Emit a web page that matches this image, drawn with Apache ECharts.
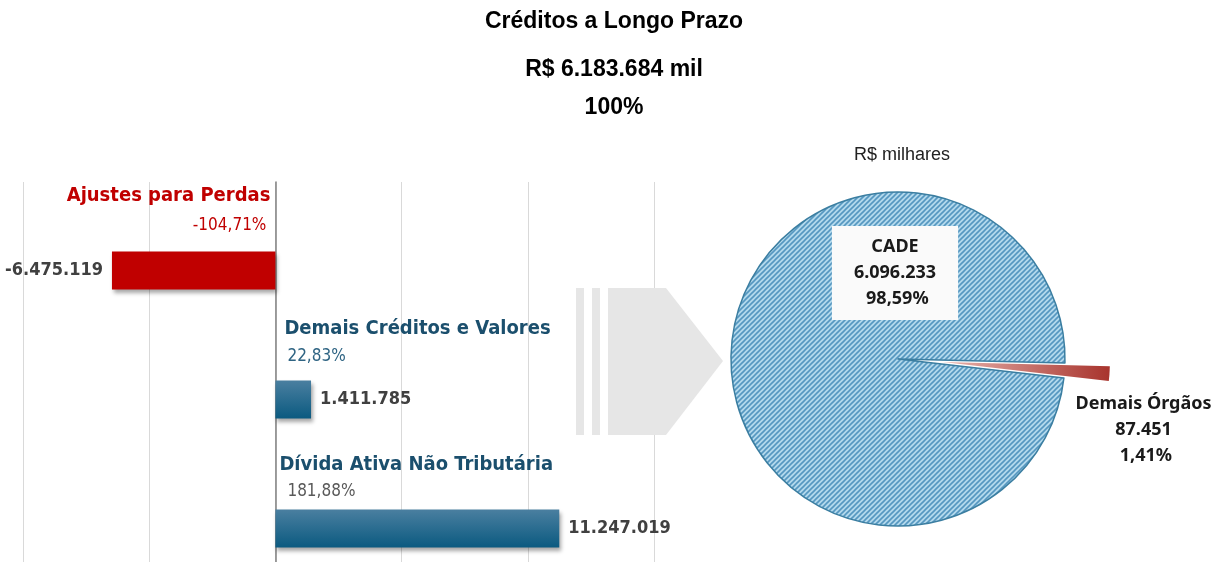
<!DOCTYPE html>
<html>
<head>
<meta charset="utf-8">
<script src="https://cdn.jsdelivr.net/npm/echarts@6/dist/echarts.min.js"></script>
<style>
  html, body { margin: 0; padding: 0; background: #fff; }
  #chart { width: 1212px; height: 562px; }
</style>
</head>
<body>
<div id="chart"></div>
<script>
// titulos
const titleLines = ['Créditos a Longo Prazo', 'R$ 6.183.684 mil', '100%'];
const pieTitle = 'R$ milhares';

// barras (R$ mil)
const barCategories = ['Ajustes para Perdas', 'Demais Créditos e Valores', 'Dívida Ativa Não Tributária'];
const barValues = [-6475119, 1411785, 11247019];
const barShares = ['-104,71%', '22,83%', '181,88%'];

// pizza
const pieNames = ['CADE', 'Demais Órgãos'];
const pieValues = [6096233, 87451];
const pieShares = ['98,59%', '1,41%'];

const narrow = "'Liberation Sans Narrow', 'DejaVu Sans Condensed', sans-serif";

function fmt(v) {
  const s = Math.abs(v).toString().replace(/\B(?=(\d{3})+(?!\d))/g, '.');
  return (v < 0 ? '-' : '') + s;
}

// hachura diagonal da pizza
function hatch() {
  const n = 5;
  const c = document.createElement('canvas');
  c.width = n; c.height = n;
  const g = c.getContext('2d');
  g.fillStyle = '#b3d9ec';
  g.fillRect(0, 0, n, n);
  g.strokeStyle = '#5597c0';
  g.lineWidth = 1.6;
  g.beginPath();
  g.moveTo(0, n); g.lineTo(n, 0);
  g.moveTo(-1, 1); g.lineTo(1, -1);
  g.moveTo(n - 1, n + 1); g.lineTo(n + 1, n - 1);
  g.stroke();
  return c;
}

const chart = echarts.init(document.getElementById('chart'));

const blueBar = new echarts.graphic.LinearGradient(0, 0, 0, 1, [
  { offset: 0, color: '#4a7fa0' },
  { offset: 1, color: '#0b5a80' }
]);

const redSlice = new echarts.graphic.LinearGradient(0, 0, 1, 0, [
  { offset: 0, color: '#e7b3ad' },
  { offset: 1, color: '#a8342d' }
]);

const nameColors = ['#c00000', '#1b4f6d', '#1b4f6d'];
const shareColors = ['#c00000', '#2f6483', '#595959'];
const nameDy = [-75, -71, -64];
const shareDy = [-45, -43, -37];

const option = {
  animation: false,
  backgroundColor: '#fff',
  title: titleLines.map((t, i) => ({
    text: t,
    left: 614,
    top: [10, 58, 96][i],
    textAlign: 'center',
    padding: 0,
    textStyle: { fontFamily: 'Liberation Sans', fontWeight: 'bold', fontSize: 23, color: '#000' }
  })).concat([{
    text: pieTitle,
    left: 902,
    top: 146,
    textAlign: 'center',
    padding: 0,
    textStyle: { fontFamily: 'Liberation Sans', fontWeight: 'normal', fontSize: 18, color: '#222' }
  }]),
  grid: [
    { left: 23, right: 558, top: 206, height: 387, outerBoundsMode: 'none' },
    { left: 23, right: 558, top: 182, bottom: 0, outerBoundsMode: 'none' }
  ],
  xAxis: [
    { gridIndex: 0, type: 'value', min: -10000000, max: 15000000, interval: 5000000,
      axisLine: { show: false }, axisTick: { show: false }, axisLabel: { show: false }, splitLine: { show: false } },
    { gridIndex: 1, type: 'value', min: -10000000, max: 15000000, interval: 5000000,
      axisLine: { show: false }, axisTick: { show: false }, axisLabel: { show: false },
      splitLine: { show: true, lineStyle: { color: '#d9d9d9', width: 1 } } }
  ],
  yAxis: [
    { gridIndex: 0, type: 'category', inverse: true, data: barCategories,
      axisLine: { show: false }, axisTick: { show: false }, axisLabel: { show: false } },
    { gridIndex: 1, type: 'category', data: [''],
      axisLine: { show: true, onZero: true, lineStyle: { color: '#808080', width: 1.5 } },
      axisTick: { show: false }, axisLabel: { show: false } }
  ],
  graphic: [
    { type: 'rect', z: 5, shape: { x: 576, y: 288, width: 8, height: 147 }, style: { fill: '#e6e6e6' } },
    { type: 'rect', z: 5, shape: { x: 592, y: 288, width: 8, height: 147 }, style: { fill: '#e6e6e6' } },
    { type: 'polygon', z: 5, shape: { points: [[608, 288], [666, 288], [723, 361], [666, 435], [608, 435]] },
      style: { fill: '#e6e6e6' } }
  ],
  series: [
    {
      type: 'bar',
      xAxisIndex: 0,
      yAxisIndex: 0,
      barWidth: 38,
      data: barValues.map(v => ({
        value: v,
        itemStyle: { color: v < 0 ? '#c00000' : blueBar },
        label: { position: v < 0 ? 'left' : 'right' }
      })),
      itemStyle: {
        shadowBlur: 4, shadowColor: 'rgba(0,0,0,0.35)', shadowOffsetX: 2, shadowOffsetY: 3
      },
      label: {
        show: true,
        distance: 9,
        formatter: p => fmt(p.value),
        fontFamily: narrow, fontWeight: 'bold', fontSize: 18, color: '#404040'
      }
    },
    {
      type: 'custom',
      xAxisIndex: 0,
      yAxisIndex: 0,
      clip: false,
      z: 4,
      data: barCategories.map((c, i) => [0, i]),
      renderItem: (params, api) => {
        const i = api.value(1);
        const p = api.coord([0, i]);
        const neg = barValues[i] < 0;
        return {
          type: 'group',
          children: [
            { type: 'text', x: neg ? p[0] - 5 : p[0] + (i === 2 ? 4 : 9), y: p[1] + nameDy[i],
              style: { text: barCategories[i], fill: nameColors[i], fontFamily: narrow, fontWeight: 'bold',
                fontSize: 20, align: neg ? 'right' : 'left', verticalAlign: 'middle' } },
            { type: 'text', x: neg ? p[0] - 9 : p[0] + 12, y: p[1] + shareDy[i],
              style: { text: barShares[i], fill: shareColors[i], fontFamily: narrow, fontWeight: 'normal',
                fontSize: 17, align: neg ? 'right' : 'left', verticalAlign: 'middle' } }
          ]
        };
      }
    },
    {
      type: 'pie',
      center: [898, 359],
      radius: 167,
      startAngle: -6.5,
      clockwise: true,
      selectedMode: 'single',
      selectedOffset: 45,
      emphasis: { disabled: true },
      labelLine: { show: false, length: 0, length2: 0 },
      data: [
        {
          name: pieNames[0],
          value: pieValues[0],
          itemStyle: { color: { image: hatch(), repeat: 'repeat' }, borderColor: '#3b7ea1', borderWidth: 1.5 },
          label: {
            position: 'center',
            formatter: p => p.name + '\n' + fmt(p.value) + '\n ' + pieShares[0],
            backgroundColor: '#fafafa',
            padding: [8, 22],
            lineHeight: 26
          }
        },
        {
          name: pieNames[1],
          value: pieValues[1],
          selected: true,
          itemStyle: { color: redSlice, borderWidth: 0 },
          label: {
            position: 'outside',
            width: 150,
            overflow: 'none',
            align: 'center',
            formatter: p => p.name + '\n' + fmt(p.value) + '\n ' + pieShares[1],
            lineHeight: 26
          }
        }
      ],
      label: {
        show: true,
        fontFamily: 'Noto Sans', fontWeight: 'bold', fontSize: 18, color: '#1a1a1a'
      },
      labelLayout: p => p.dataIndex === 0
        ? { dx: -3, dy: -86 }
        : { dx: 29, dy: 56, align: 'center' }
    }
  ]
};

chart.setOption(option);
</script>
</body>
</html>
